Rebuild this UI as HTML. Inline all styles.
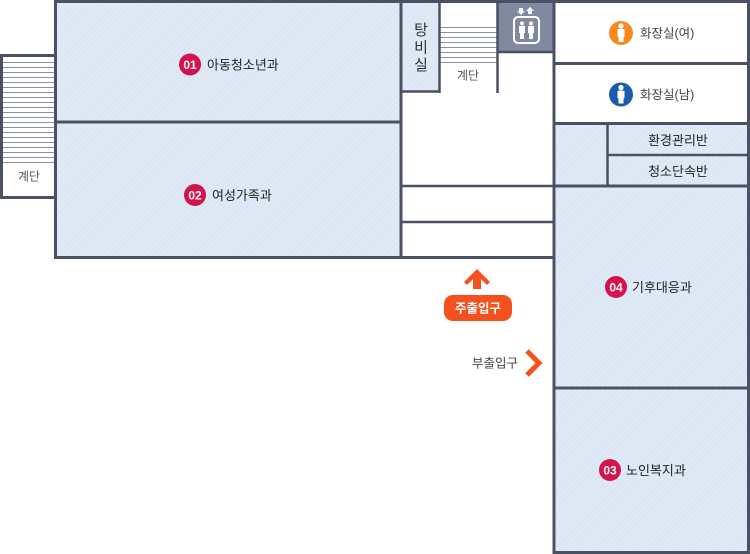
<!DOCTYPE html>
<html><head><meta charset="utf-8"><style>
html,body{margin:0;padding:0;background:#fff;}
svg{display:block;}
text{font-family:"Liberation Sans","Noto Sans CJK KR",sans-serif;}
</style></head><body>
<svg width="750" height="554" viewBox="0 0 750 554" xmlns="http://www.w3.org/2000/svg">
<defs>
<pattern id="h" patternUnits="userSpaceOnUse" width="4" height="4" patternTransform="rotate(45)">
<rect width="4" height="4" fill="#e0eaf6"/>
<rect width="1" height="4" fill="#d7e3f1"/>
</pattern>
</defs>
<!-- fills -->
<rect x="56" y="2" width="345" height="120" fill="url(#h)"/>
<rect x="56" y="122" width="345" height="136" fill="url(#h)"/>
<rect x="401" y="2" width="39" height="90" fill="url(#h)"/>
<rect x="554" y="123" width="54" height="63" fill="url(#h)"/>
<rect x="607" y="123" width="141" height="63" fill="url(#h)"/>
<rect x="554" y="186" width="194" height="367" fill="url(#h)"/>
<!-- elevator -->
<rect x="497" y="0" width="57" height="52" fill="#7f899f"/>
<!-- left stairs -->
<rect x="1.5" y="55.5" width="54" height="142" fill="#fff" stroke="#4b5165" stroke-width="3"/>
<g stroke="#8c91a0" stroke-width="1">
<line x1="3" y1="62.5" x2="54" y2="62.5"/><line x1="3" y1="67.5" x2="54" y2="67.5"/><line x1="3" y1="72.5" x2="54" y2="72.5"/><line x1="3" y1="77.5" x2="54" y2="77.5"/><line x1="3" y1="82.5" x2="54" y2="82.5"/><line x1="3" y1="87.5" x2="54" y2="87.5"/><line x1="3" y1="92.5" x2="54" y2="92.5"/><line x1="3" y1="97.5" x2="54" y2="97.5"/><line x1="3" y1="102.5" x2="54" y2="102.5"/><line x1="3" y1="107.5" x2="54" y2="107.5"/><line x1="3" y1="112.5" x2="54" y2="112.5"/><line x1="3" y1="117.5" x2="54" y2="117.5"/><line x1="3" y1="122.5" x2="54" y2="122.5"/><line x1="3" y1="127.5" x2="54" y2="127.5"/><line x1="3" y1="132.5" x2="54" y2="132.5"/><line x1="3" y1="137.5" x2="54" y2="137.5"/><line x1="3" y1="142.5" x2="54" y2="142.5"/><line x1="3" y1="147.5" x2="54" y2="147.5"/><line x1="3" y1="152.5" x2="54" y2="152.5"/><line x1="3" y1="157.5" x2="54" y2="157.5"/><line x1="3" y1="162.5" x2="54" y2="162.5"/>
</g>
<!-- middle stairs -->
<g stroke="#8c91a0" stroke-width="1">
<line x1="440" y1="27.5" x2="497" y2="27.5"/><line x1="440" y1="32.5" x2="497" y2="32.5"/><line x1="440" y1="37.5" x2="497" y2="37.5"/><line x1="440" y1="42.5" x2="497" y2="42.5"/><line x1="440" y1="47.5" x2="497" y2="47.5"/><line x1="440" y1="52.5" x2="497" y2="52.5"/><line x1="440" y1="57.5" x2="497" y2="57.5"/><line x1="440" y1="62.5" x2="497" y2="62.5"/>
</g>
<!-- walls -->
<g stroke="#4b5165" fill="none">
<line x1="54" y1="1.5" x2="750" y2="1.5" stroke-width="3"/>
<line x1="55.5" y1="0" x2="55.5" y2="259" stroke-width="3"/>
<line x1="54" y1="257.5" x2="555" y2="257.5" stroke-width="3"/>
<line x1="55" y1="122" x2="401" y2="122" stroke-width="3"/>
<line x1="401" y1="0" x2="401" y2="259" stroke-width="3"/>
<line x1="401" y1="91.5" x2="440" y2="91.5" stroke-width="2.5"/>
<line x1="439.5" y1="0" x2="439.5" y2="93" stroke-width="2.5"/>
<line x1="497.5" y1="0" x2="497.5" y2="93" stroke-width="2.5"/>
<line x1="497" y1="52" x2="555" y2="52" stroke-width="2.5"/>
<line x1="554" y1="0" x2="554" y2="554" stroke-width="3"/>
<line x1="748.5" y1="0" x2="748.5" y2="554" stroke-width="3"/>
<line x1="553" y1="552.5" x2="750" y2="552.5" stroke-width="3"/>
<line x1="554" y1="63.5" x2="750" y2="63.5" stroke-width="3"/>
<line x1="554" y1="123.5" x2="750" y2="123.5" stroke-width="3"/>
<line x1="607" y1="155" x2="750" y2="155" stroke-width="2.5"/>
<line x1="554" y1="186" x2="750" y2="186" stroke-width="3"/>
<line x1="554" y1="388" x2="750" y2="388" stroke-width="3"/>
<line x1="607.5" y1="123" x2="607.5" y2="186" stroke-width="2.5"/>
<line x1="401" y1="186" x2="554" y2="186" stroke-width="2.5"/>
<line x1="401" y1="222" x2="554" y2="222" stroke-width="2.5"/>
</g>
<!-- elevator icon -->
<g fill="#fff">
<rect x="514" y="17" width="25" height="26" rx="4" fill="none" stroke="#fff" stroke-width="2"/>
<circle cx="522" cy="23.5" r="2"/>
<rect x="519" y="26" width="6" height="7"/>
<rect x="520" y="33" width="4" height="6"/>
<circle cx="531" cy="23.5" r="2"/>
<rect x="528" y="26" width="6" height="7"/>
<rect x="529" y="33" width="4" height="6"/>
<polygon points="519,8 523,8 523,11 525,11 521,15 517,11 519,11"/>
<polygon points="530,7 534,11 532,11 532,14 528,14 528,11 526,11"/>
</g>
<!-- toilets -->
<circle cx="621" cy="33" r="12" fill="#f7891f"/>
<g fill="#fff"><circle cx="621" cy="26" r="2.6"/><rect x="617.5" y="29" width="7" height="8" rx="1"/><rect x="618.5" y="36" width="5" height="6"/></g>
<circle cx="621" cy="94.5" r="12" fill="#1a5ca9"/>
<g fill="#fff"><circle cx="621" cy="87.5" r="2.6"/><rect x="617.5" y="90.5" width="7" height="8" rx="1"/><rect x="618.5" y="97.5" width="5" height="6"/></g>
<text x="640" y="37.5" font-size="12.5" fill="#444">화장실(여)</text>
<text x="640" y="99" font-size="12.5" fill="#444">화장실(남)</text>
<text x="678" y="145" font-size="13" fill="#222" text-anchor="middle">환경관리반</text>
<text x="678" y="176" font-size="13" fill="#222" text-anchor="middle">청소단속반</text>
<!-- stairs labels -->
<text x="29" y="180.5" font-size="12" fill="#555" text-anchor="middle">계단</text>
<text x="468" y="79.5" font-size="12" fill="#555" text-anchor="middle">계단</text>
<!-- 탕비실 -->
<g font-size="15" fill="#333" text-anchor="middle">
<text x="421" y="35">탕</text><text x="421" y="52.5">비</text><text x="421" y="70">실</text>
</g>
<!-- room badges -->
<g font-size="12" font-weight="bold" fill="#fff" text-anchor="middle">
<circle cx="190" cy="64.5" r="11" fill="#d5124b"/><text x="190" y="69">01</text>
<circle cx="195" cy="195" r="11" fill="#d5124b"/><text x="195" y="199.5">02</text>
<circle cx="616" cy="287" r="11" fill="#d5124b"/><text x="616" y="291.5">04</text>
<circle cx="610" cy="470" r="11" fill="#d5124b"/><text x="610" y="474.5">03</text>
</g>
<g font-size="13" fill="#222">
<text x="207" y="69.5">아동청소년과</text>
<text x="212" y="200">여성가족과</text>
<text x="632" y="292">기후대응과</text>
<text x="626" y="475">노인복지과</text>
</g>
<!-- entrances -->
<polygon points="477,269 490,282 487,285 481,279 481,289 473,289 473,279 467,285 464,282" fill="#f4511e"/>
<rect x="444" y="295" width="68" height="26" rx="9" fill="#f4511e"/>
<text x="478" y="312.5" font-size="12.5" font-weight="bold" fill="#fff" text-anchor="middle">주출입구</text>
<text x="518" y="367.5" font-size="12.5" fill="#444" text-anchor="end">부출입구</text>
<polyline points="527,351 539,363 527,375" fill="none" stroke="#f4511e" stroke-width="5"/>
</svg>
</body></html>
